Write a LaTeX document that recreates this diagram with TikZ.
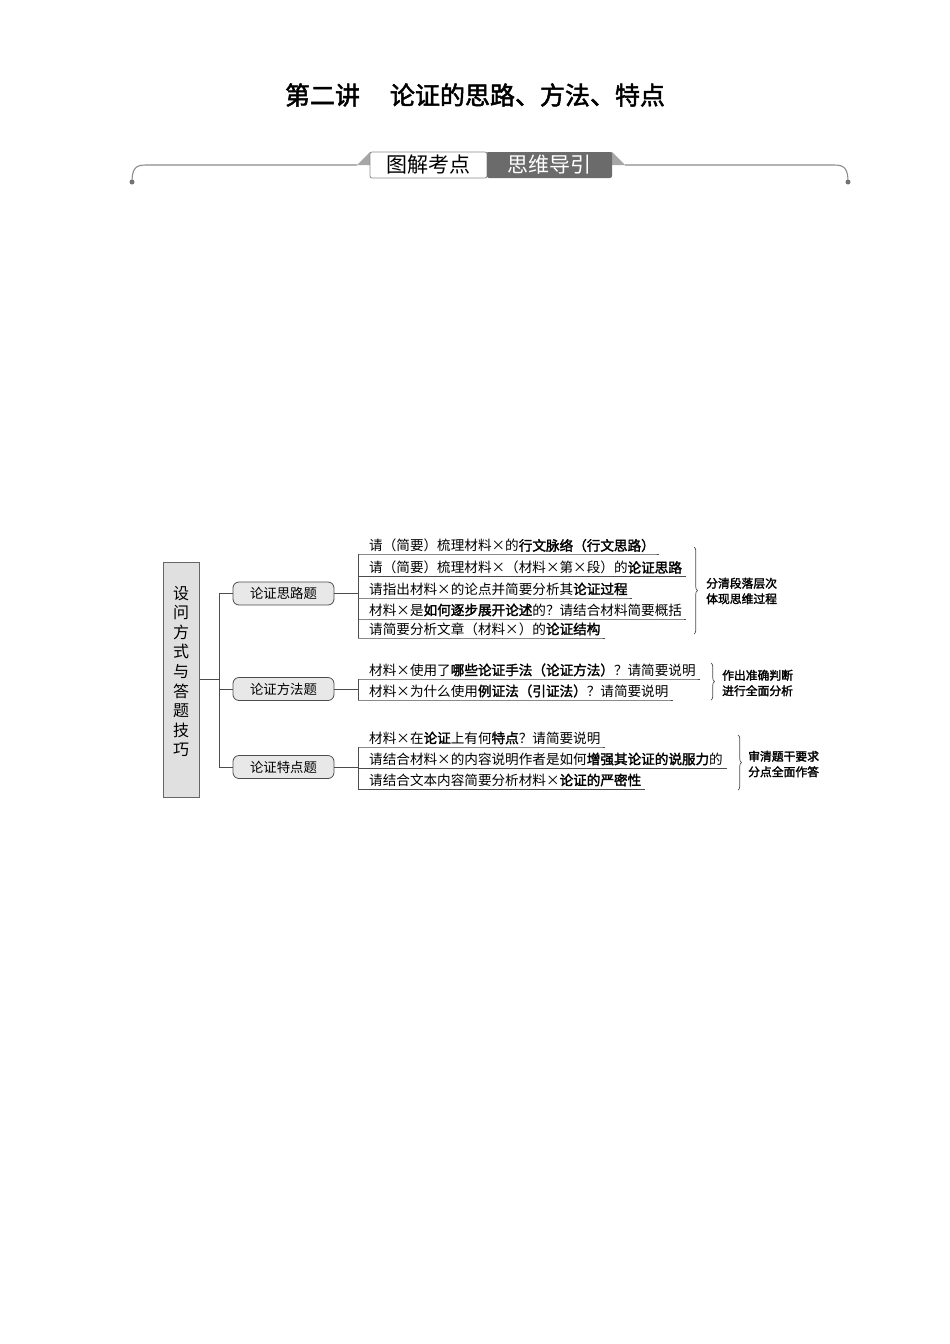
\documentclass[tikz,border=0pt]{standalone}
\usepackage{fontspec}
\setmainfont{Noto Sans CJK SC}[AutoFakeBold=2]
\usetikzlibrary{positioning,decorations.pathreplacing,shadows}
\newcommand{\X}{\makebox[1em]{×}}	% full width cross
\newcommand{\Em}[1]{\textbf{#1}}

\begin{document}
\begin{tikzpicture}[% pixel-like units, y grows downwards
			x=1pt,y=-1pt,
			every node/.style={inner sep=0pt},
			link/.style={draw=black!70,line width=0.8pt},
			rule/.style={draw=black!45,line width=1.1pt},
			mainbox/.style={rectangle,draw=black!60,line width=1pt,fill=black!12,
				minimum width=36pt,minimum height=235pt,
				drop shadow={shadow xshift=1.2pt,shadow yshift=-1.2pt,fill=black!60,opacity=0.8}},
			kind/.style={rectangle,rounded corners=6pt,draw=black!70,line width=0.8pt,fill=black!9,
				minimum width=101pt,minimum height=23pt,font=\fontsize{13.4}{16}\selectfont},
			item/.style={anchor=west,font=\fontsize{13.6}{16}\selectfont},
			note/.style={anchor=west,align=left,font=\fontsize{11.8}{15.5}\selectfont\bfseries},
			brace/.style={draw=black!70,line width=0.7pt,decorate,decoration={brace,amplitude=3.5pt}},
			tabA/.style={rectangle,rounded corners=2pt,draw=black!45,line width=0.8pt,fill=white,
				minimum width=117pt,minimum height=26pt,font=\fontsize{21}{24}\selectfont},
			tabB/.style={rectangle,rounded corners=2pt,fill=black!58,text=white,
				minimum width=125pt,minimum height=26pt,font=\fontsize{21}{24}\selectfont}
		]
		\useasboundingbox (0,0) rectangle (950,1344);
		% title and header
		\node[font=\fontsize{25}{30}\selectfont\bfseries](title) at (475,95){第二讲\hspace{1.2em}论证的思路、方法、特点};
		\coordinate (cornerL) at (357,165);
		\coordinate (cornerR) at (625,165);
		\fill[black!35] (cornerL) -- (370,152) -- (612,152) -- (cornerR) -- cycle;
		\node[tabA](tabA) at (428.5,165){图解考点};
		\node[tabB](tabB) at (549.5,165){思维导引};
		\coordinate (dotL) at (132,182);
		\coordinate (dotR) at (848,182);
		\draw[rule] (dotL) .. controls (132,168) and (136,165) .. (146,165) -- (cornerL);
		\draw[rule] (dotR) .. controls (848,168) and (844,165) .. (834,165) -- (cornerR);
		\fill[black!55] (dotL) circle (2.5pt) (dotR) circle (2.5pt);

		% root and question kinds
		\node[mainbox](Q) at (181,679.5){};
		\node[font=\fontsize{16}{19.6}\selectfont,align=center](Qtxt) at (181,671.5){设\\问\\方\\式\\与\\答\\题\\技\\巧};
		\node[kind](B1) at (283.5,593.5){论证思路题};
		\node[kind](B2) at (283.5,689){论证方法题};
		\node[kind](B3) at (283.5,767){论证特点题};
		\coordinate (J) at (219,679.5);
		\draw[link] (Q.east) -- (J);
		\draw[link] (J |- B1.west) -- (J |- B3.west);
		\draw[link] (J |- B1.west) -- (B1.west);
		\draw[link] (J |- B2.west) -- (B2.west);
		\draw[link] (J |- B3.west) -- (B3.west);

		% ways of asking: thinking
		\node[item](a1) at (369,545.5){请（简要）梳理材料\X 的\Em{行文脉络（行文思路）}};
		\node[item](a2) at (369,567.5){请（简要）梳理材料\X （材料\X 第\X 段）的\Em{论证思路}};
		\node[item](a3) at (369,589){请指出材料\X 的论点并简要分析其\Em{论证过程}};
		\node[item](a4) at (369,610){材料\X 是\Em{如何逐步展开论述}的？请结合材料简要概括};
		\node[item](a5) at (369,629){请简要分析文章（材料\X ）的\Em{论证结构}};
		\coordinate (u1) at (358,554);
		\coordinate (u2) at (358,576.5);
		\coordinate (u3) at (358,598);
		\coordinate (u4) at (358,619);
		\coordinate (u5) at (358,638);
		\draw[link] (u1) -- (u1 -| a1.east) -- ++(4,0);
		\draw[link] (u2) -- (u2 -| a2.east) -- ++(4,0);
		\draw[link] (u3) -- (u3 -| a3.east) -- ++(4,0);
		\draw[link] (u4) -- (u4 -| a4.east) -- ++(4,0);
		\draw[link] (u5) -- (u5 -| a5.east) -- ++(4,0);
		\draw[link] (u1) -- (u5);
		\draw[link] (B1.east) -- (B1.east -| u1);
		\draw[brace] (694,547) -- (694,634);
		\node[note](n1) at (706,591){分清段落层次\\体现思维过程};

		% ways of asking: methods
		\node[item](b1) at (369,670){材料\X 使用了\Em{哪些论证手法（论证方法）}？请简要说明};
		\node[item](b2) at (369,691){材料\X 为什么使用\Em{例证法（引证法）}？请简要说明};
		\coordinate (v1) at (358,679);
		\coordinate (v2) at (358,700);
		\draw[link] (v1) -- (v1 -| b1.east) -- ++(4,0);
		\draw[link] (v2) -- (v2 -| b2.east) -- ++(4,0);
		\draw[link] (v1) -- (v2);
		\draw[link] (B2.east) -- (B2.east -| v1);
		\draw[brace] (711,663) -- (711,700);
		\node[note](n2) at (722,683){作出准确判断\\进行全面分析};

		% ways of asking: features
		\node[item](c1) at (369,738){材料\X 在\Em{论证}上有何\Em{特点}？请简要说明};
		\node[item](c2) at (369,759){请结合材料\X 的内容说明作者是如何\Em{增强其论证的说服力}的};
		\node[item](c3) at (369,780){请结合文本内容简要分析材料\X\Em{论证的严密性}};
		\coordinate (w1) at (358,747);
		\coordinate (w2) at (358,768);
		\coordinate (w3) at (358,789);
		\draw[link] (w1) -- (w1 -| c1.east) -- ++(4,0);
		\draw[link] (w2) -- (w2 -| c2.east) -- ++(4,0);
		\draw[link] (w3) -- (w3 -| c3.east) -- ++(4,0);
		\draw[link] (w1) -- (w3);
		\draw[link] (B3.east) -- (B3.east -| w1);
		\draw[brace] (738,735) -- (738,790);
		\node[note](n3) at (748,764){审清题干要求\\分点全面作答};
	\end{tikzpicture}
\end{document}
